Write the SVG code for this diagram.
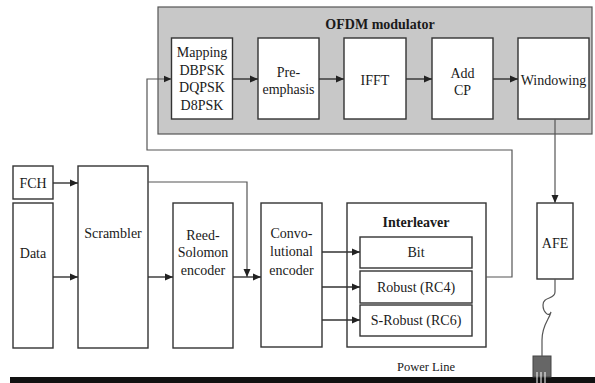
<svg xmlns="http://www.w3.org/2000/svg" width="595" height="383" viewBox="0 0 595 383" font-family="'Liberation Serif', 'Times New Roman', 'DejaVu Serif', serif">
  <style>
    .box { fill: #ffffff; stroke: #333333; stroke-width: 1.4; }
    .panel { fill: #c8c8c8; stroke: #555555; stroke-width: 1.2; }
    text { font-family: 'Liberation Serif', 'Times New Roman', 'DejaVu Serif', serif; }
    .lbl { font-size: 14px; fill: #1a1a1a; text-anchor: middle; dominant-baseline: central; }
    .bold { font-weight: bold; }
    .wire { fill: none; stroke: #333333; stroke-width: 1.4; }
    .thin { fill: none; stroke: #555555; stroke-width: 1.2; }
  </style>
  <defs>
    <marker id="arr" viewBox="0 0 8 8" refX="8" refY="4" markerWidth="8" markerHeight="8" markerUnits="userSpaceOnUse" orient="auto">
      <path d="M0,0.5 L8,4 L0,7.5 Z" fill="#222222"/>
    </marker>
  </defs>

  <rect width="595" height="383" fill="#ffffff"/>

  <!-- OFDM modulator panel -->
  <g id="ofdm-modulator">
    <rect class="panel" x="158" y="7" width="434" height="127"/>
    <text class="lbl bold" x="380" y="24">OFDM modulator</text>
  </g>

  <g id="mapping">
    <rect class="box" x="171.5" y="38" width="61" height="81"/>
    <text class="lbl" x="202" y="52">Mapping</text>
    <text class="lbl" x="202" y="70">DBPSK</text>
    <text class="lbl" x="202" y="87.5">DQPSK</text>
    <text class="lbl" x="202" y="105">D8PSK</text>
  </g>
  <g id="pre-emphasis">
    <rect class="box" x="258" y="38" width="61" height="81"/>
    <text class="lbl" x="288.5" y="72">Pre-</text>
    <text class="lbl" x="288.5" y="89">emphasis</text>
  </g>
  <g id="ifft">
    <rect class="box" x="344" y="38" width="62" height="81"/>
    <text class="lbl" x="375" y="80">IFFT</text>
  </g>
  <g id="add-cp">
    <rect class="box" x="432" y="38" width="61" height="81"/>
    <text class="lbl" x="462.5" y="73">Add</text>
    <text class="lbl" x="462.5" y="90">CP</text>
  </g>
  <g id="windowing">
    <rect class="box" x="518" y="38" width="71" height="81"/>
    <text class="lbl" x="553.5" y="80">Windowing</text>
  </g>

  <!-- Transmit chain -->
  <g id="fch">
    <rect class="box" x="13" y="166" width="40" height="33"/>
    <text class="lbl" x="33" y="183">FCH</text>
  </g>
  <g id="data">
    <rect class="box" x="13" y="203" width="40" height="145"/>
    <text class="lbl" x="33" y="253">Data</text>
  </g>
  <g id="scrambler">
    <rect class="box" x="78" y="166" width="70" height="182"/>
    <text class="lbl" x="113" y="233">Scrambler</text>
  </g>
  <g id="reed-solomon">
    <rect class="box" x="173" y="203" width="60" height="145"/>
    <text class="lbl" x="203" y="235">Reed-</text>
    <text class="lbl" x="203" y="252.5">Solomon</text>
    <text class="lbl" x="203" y="270">encoder</text>
  </g>
  <g id="convolutional">
    <rect class="box" x="261" y="203" width="61" height="144"/>
    <text class="lbl" x="291.5" y="233">Convo-</text>
    <text class="lbl" x="291.5" y="251.5">lutional</text>
    <text class="lbl" x="291.5" y="270">encoder</text>
  </g>
  <g id="interleaver">
    <rect class="box" x="347" y="203" width="139" height="144"/>
    <text class="lbl bold" x="416" y="222">Interleaver</text>
    <rect class="box" x="360" y="237" width="112" height="31"/>
    <text class="lbl" x="416" y="252.5">Bit</text>
    <rect class="box" x="360" y="271" width="112" height="32"/>
    <text class="lbl" x="416" y="287">Robust (RC4)</text>
    <rect class="box" x="360" y="305" width="112" height="31"/>
    <text class="lbl" x="416" y="320.5">S-Robust (RC6)</text>
  </g>
  <g id="afe">
    <rect class="box" x="537" y="203" width="36" height="76"/>
    <text class="lbl" x="555" y="243">AFE</text>
  </g>

  <!-- Power line and coupling plug -->
  <g id="power-line">
    <rect x="10" y="377" width="585" height="6" fill="#111111"/>
    <text class="lbl" x="426" y="367" style="font-size:12.5px">Power Line</text>
    <rect x="533" y="356" width="18" height="21" fill="#666666" stroke="#444444" stroke-width="1"/>
    <path d="M537,372 V383 M541,372 V383 M545,372 V383" stroke="#ffffff" stroke-width="1"/>
  </g>

  <!-- Connectors -->
  <g id="connectors">
    <path class="wire" d="M233,79 H258" marker-end="url(#arr)"/>
    <path class="wire" d="M319,79 H344" marker-end="url(#arr)"/>
    <path class="wire" d="M406,79 H432" marker-end="url(#arr)"/>
    <path class="wire" d="M493,79 H518" marker-end="url(#arr)"/>

    <path class="wire" d="M53,183 H78" marker-end="url(#arr)"/>
    <path class="wire" d="M53,277 H78" marker-end="url(#arr)"/>
    <path class="wire" d="M148,277 H173" marker-end="url(#arr)"/>
    <path class="thin" d="M148,182 H247 V277" marker-end="url(#arr)"/>
    <path class="wire" d="M233,277 H261" marker-end="url(#arr)"/>

    <path class="wire" d="M322,252 H360" marker-end="url(#arr)"/>
    <path class="wire" d="M322,287 H360" marker-end="url(#arr)"/>
    <path class="wire" d="M322,320 H360" marker-end="url(#arr)"/>

    <path class="thin" d="M486,277 H512 V150 H147 V79 H171.5" marker-end="url(#arr)"/>
    <path class="thin" d="M555,119 V203" marker-end="url(#arr)"/>

    <path class="thin" d="M555,279 V292 C555,300 543,296 543,305 C543,312 549,318 551,312 C549,320 542,325 542,340 V356"/>
  </g>
</svg>
